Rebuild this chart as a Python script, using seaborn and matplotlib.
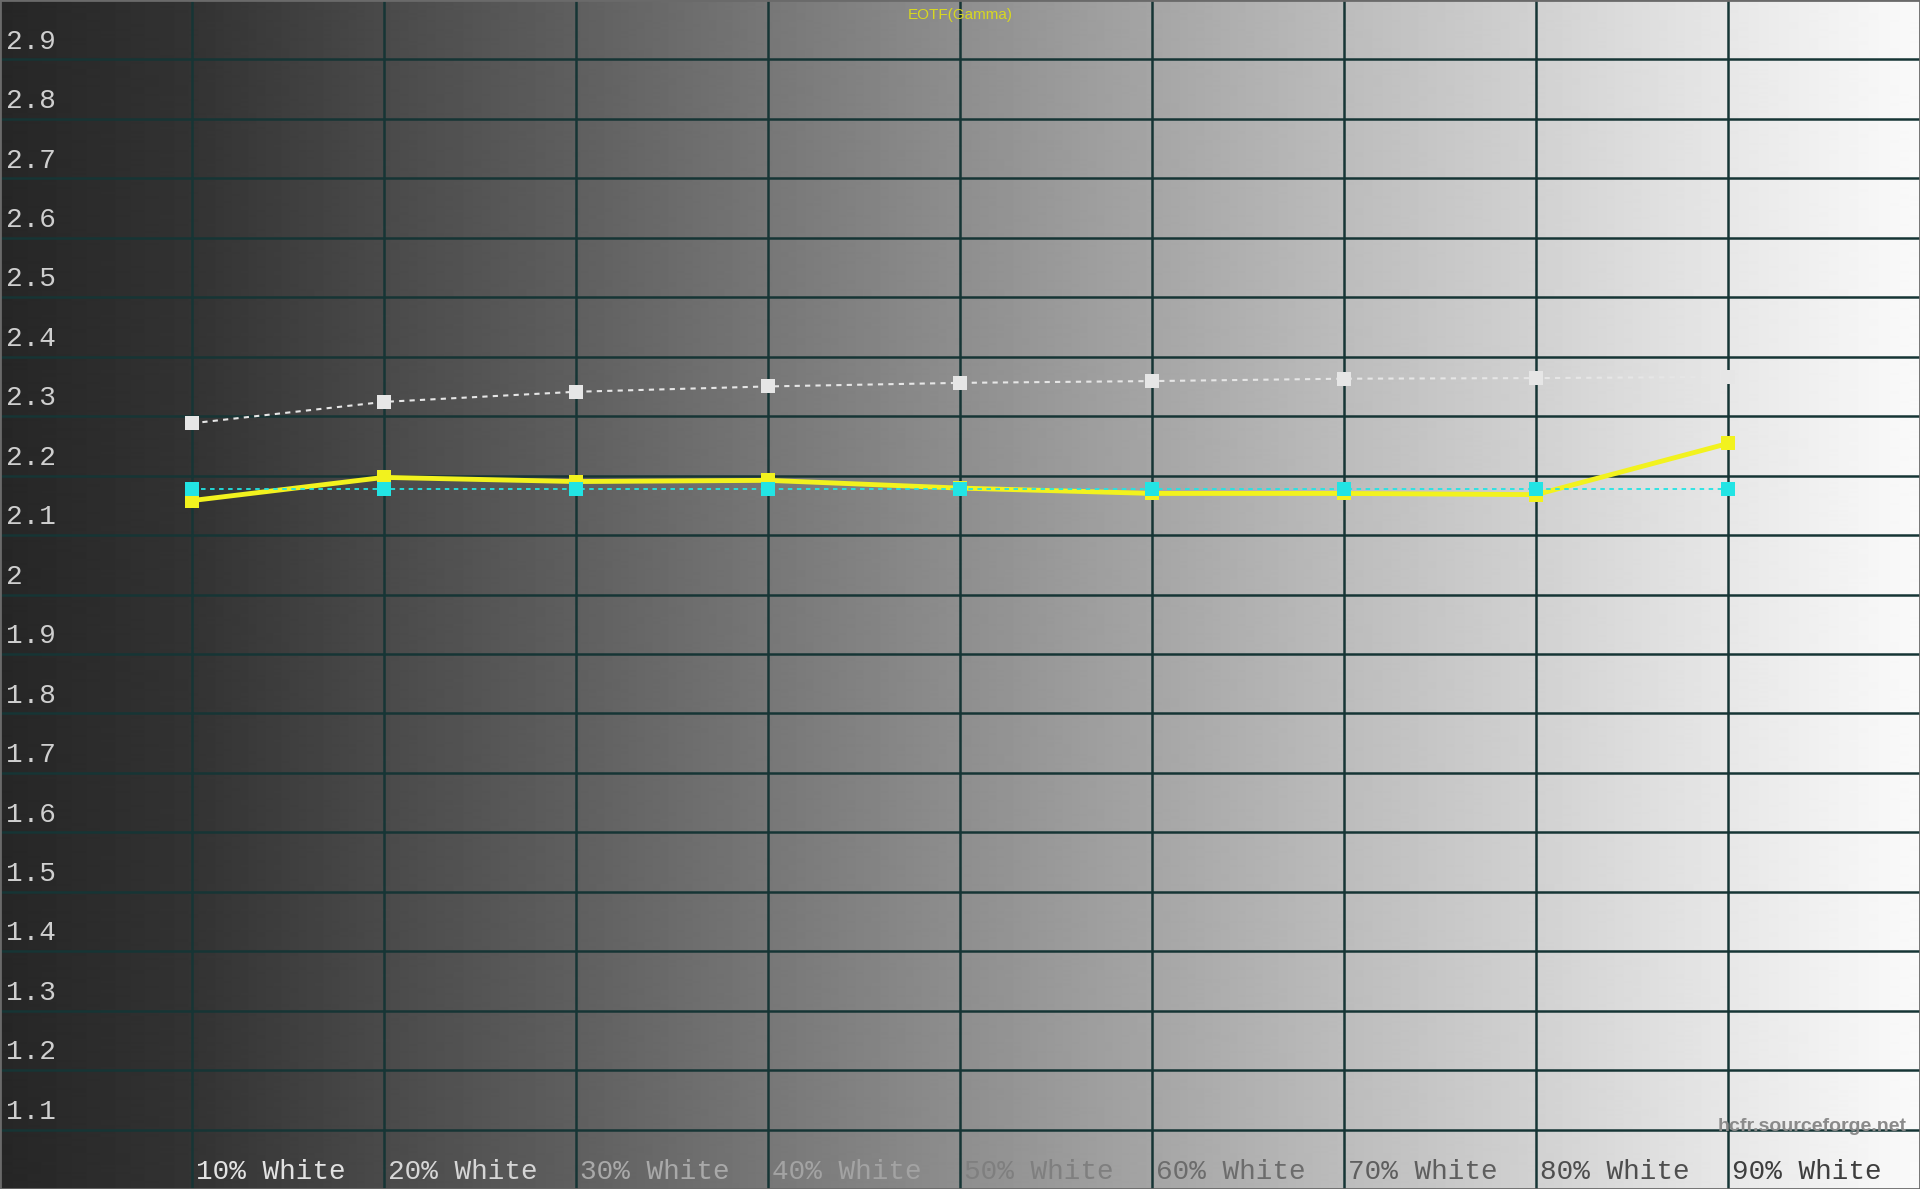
import numpy as np
import pandas as pd
import matplotlib
matplotlib.use("Agg")
import matplotlib.pyplot as plt
import matplotlib.transforms as mtransforms
import seaborn as sns

niveaux = [10, 20, 30, 40, 50, 60, 70, 80, 90]
etiquettes = ["10% White", "20% White", "30% White", "40% White", "50% White",
              "60% White", "70% White", "80% White", "90% White"]
gamma_mesure = [2.158, 2.197, 2.190, 2.192, 2.179, 2.170, 2.170, 2.168, 2.254]
gamma_reference = [2.288, 2.324, 2.341, 2.350, 2.356, 2.359, 2.363, 2.364, 2.366]
gamma_cible = [2.177, 2.177, 2.177, 2.177, 2.177, 2.177, 2.177, 2.177, 2.177]
graduations_y = [1.1, 1.2, 1.3, 1.4, 1.5, 1.6, 1.7, 1.8, 1.9, 2.0,
                 2.1, 2.2, 2.3, 2.4, 2.5, 2.6, 2.7, 2.8, 2.9]

couleurs_etiq = ["#e2e2e2", "#d6d6d6", "#a9a9a9", "#a3a3a3", "#7f7f7f",
                 "#6c6c6c", "#5e5e5e", "#4e4e4e", "#3e3e3e"]

Data = pd.DataFrame({"niveau": niveaux, "mesure": gamma_mesure,
                     "reference": gamma_reference, "cible": gamma_cible})

sns.set_style("white")
fig = plt.figure(figsize=(19.2, 11.89), dpi=100)
ax = fig.add_axes([0, 0, 1, 1])

# fond en degrade gris -> blanc
pos = np.linspace(0, 100, 11)
gris = np.array([0x26, 0x33, 0x4a, 0x5f, 0x77, 0x8e, 0xa5, 0xbc, 0xd1, 0xe7, 0xfa]) / 255
xx = np.linspace(0, 100, 1920)
fond = np.interp(xx, pos, gris)
ax.imshow(np.tile(fond, (2, 1)), cmap="gray", vmin=0, vmax=1, aspect="auto",
          extent=(0, 100, 1.0, 3.0), zorder=0, interpolation="bilinear")

for x in niveaux:
    ax.axvline(x, color="#163535", lw=1.8, zorder=1)
for y in graduations_y:
    ax.axhline(y, color="#163535", lw=1.8, zorder=1)

sns.lineplot(data=Data, x="niveau", y="reference", ax=ax, color="#e6e6e6",
             linestyle=(0, (2.5, 2.5)), lw=1.5, marker="s", markersize=10,
             markeredgewidth=0, zorder=3)
sns.lineplot(data=Data, x="niveau", y="mesure", ax=ax, color="#f2f21e",
             lw=3.5, marker="s", markersize=10, markeredgewidth=0, zorder=4)
sns.lineplot(data=Data, x="niveau", y="cible", ax=ax, color="#22e4e4",
             linestyle=(0, (2.5, 2.5)), lw=1.3, marker="s", markersize=10,
             markeredgewidth=0, zorder=5)

ax.set_xlim(0, 100)
ax.set_ylim(1.0, 3.0)
ax.set_xticks([])
ax.set_yticks([])
ax.set_xlabel("")
ax.set_ylabel("")
for s in ax.spines.values():
    s.set_color("#6a6a6a")
    s.set_linewidth(2)

trans = mtransforms.blended_transform_factory(ax.transAxes, ax.transData)
for y in graduations_y:
    txt = f"{y:g}"
    ax.text(0.003, y + 0.008, txt, transform=trans, ha="left", va="bottom",
            fontsize=20, family="Liberation Mono", color="#cfcfcf", zorder=6)

for x, lab, c in zip(niveaux, etiquettes, couleurs_etiq):
    ax.text(x + 0.2, 1.028, lab, ha="left", va="center", fontsize=20,
            family="Liberation Mono", color=c, zorder=6)

ax.text(50, 2.975, "EOTF(Gamma)", ha="center", va="center", fontsize=11,
        color="#d8d820", family="Liberation Sans", zorder=6)
ax.text(99.3, 1.105, "hcfr.sourceforge.net", ha="right", va="center",
        fontsize=14, fontweight="bold", color="#8a8a8a",
        family="Liberation Sans", zorder=6)

fig.savefig("out.png", dpi=100)
